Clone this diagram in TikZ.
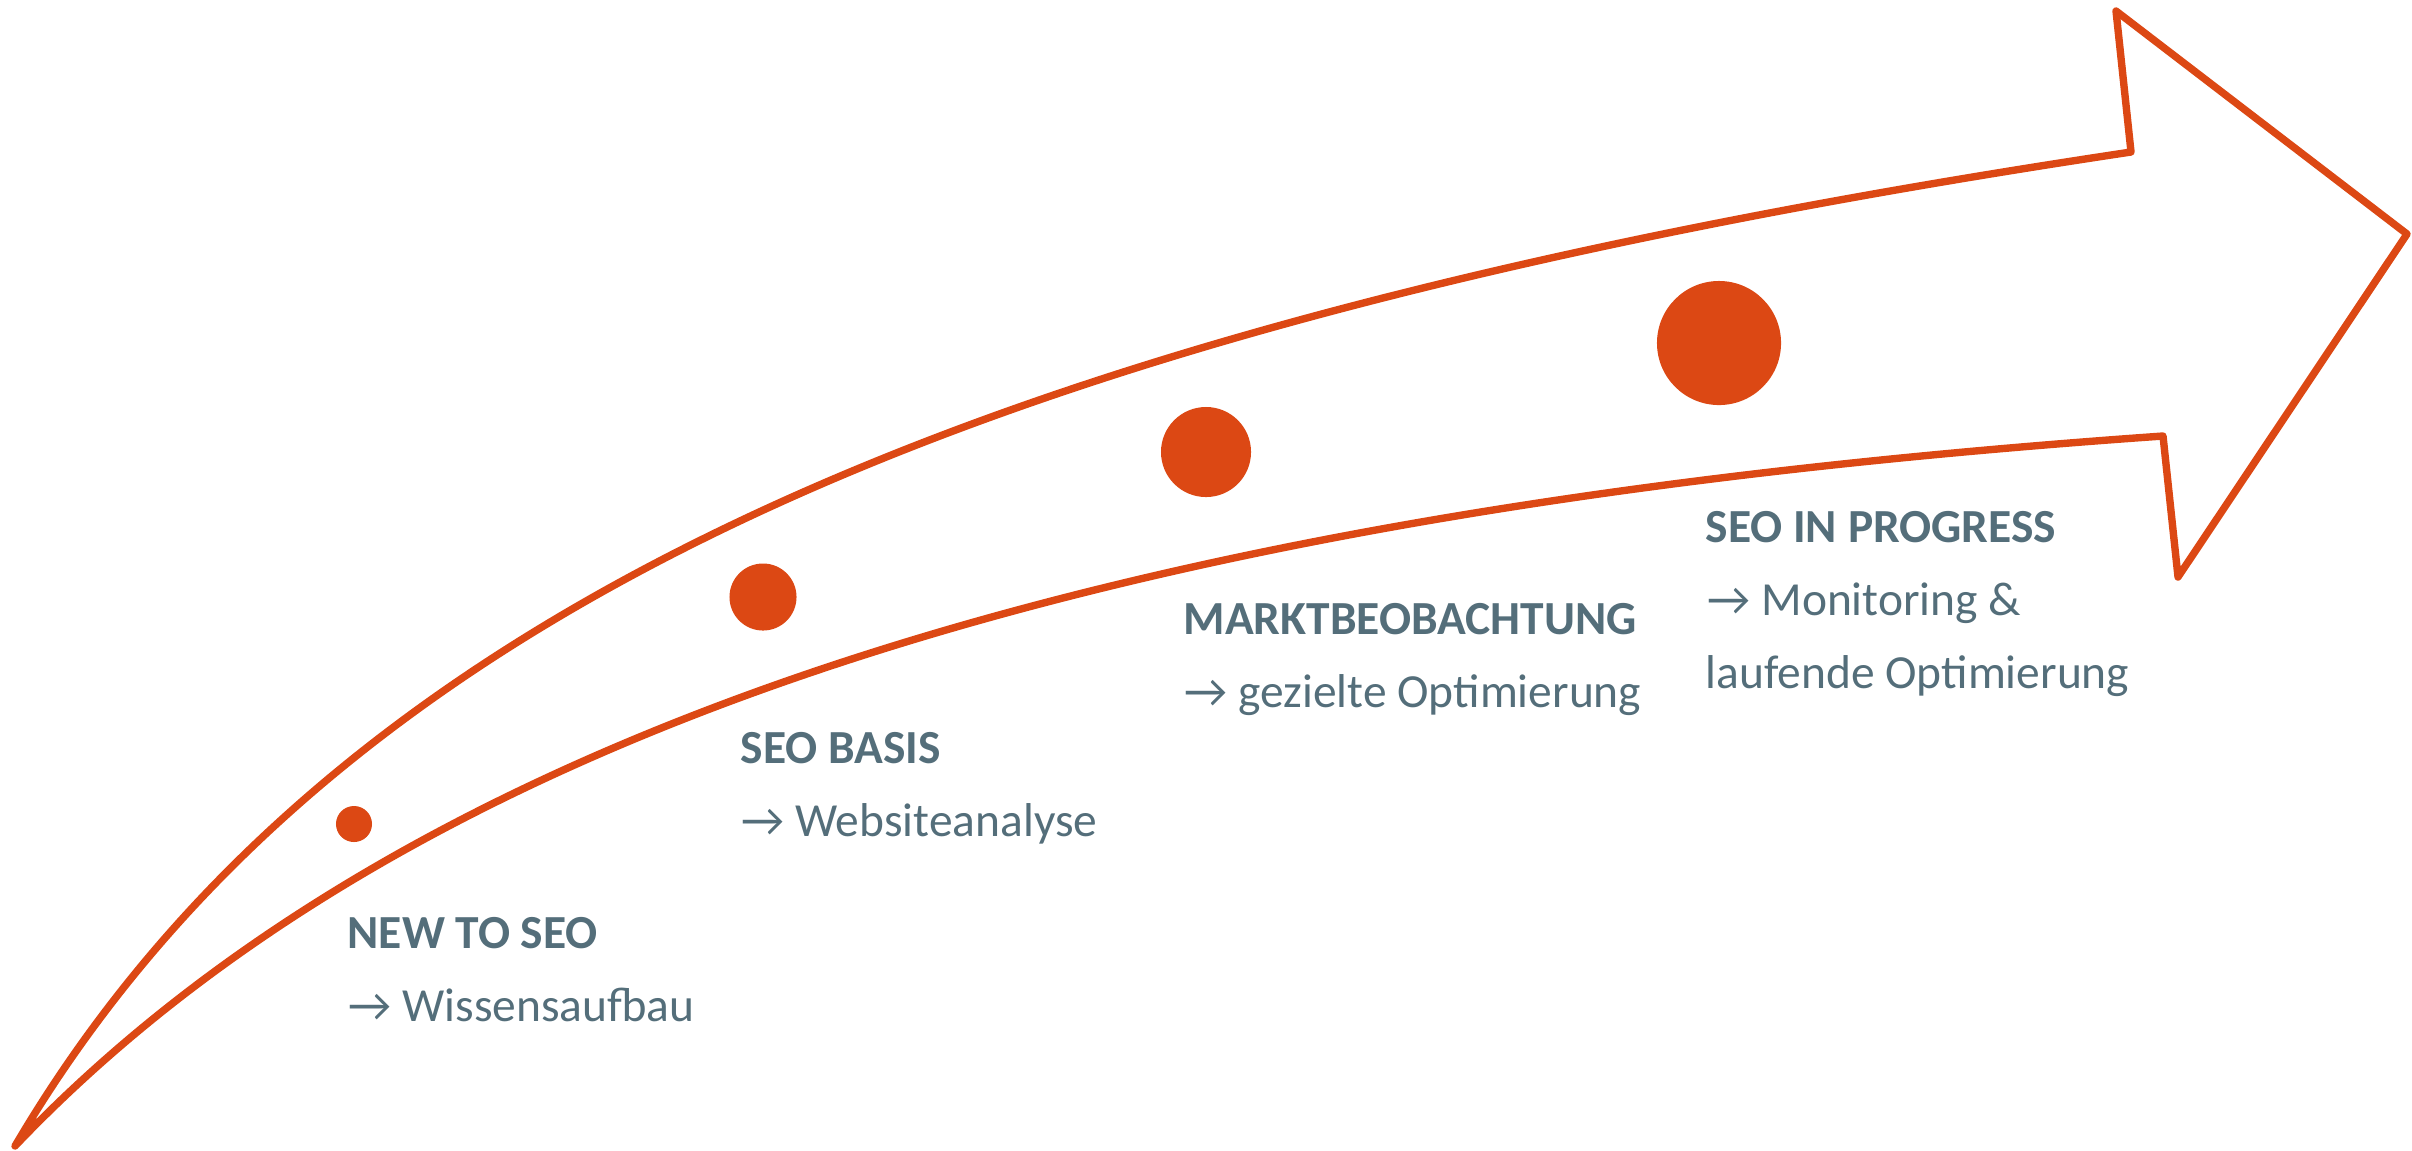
\documentclass[tikz,border=0pt]{standalone}
\usepackage{fontspec}
\setmainfont{Carlito}
\usetikzlibrary{positioning}
\definecolor{seoorange}{HTML}{DC4814}
\definecolor{seogray}{HTML}{546E7A}

\begin{document}
\begin{tikzpicture}[x=0.01cm, y=-0.01cm,
    stagedot/.style={circle, fill=seoorange, inner sep=0pt},
    stagetitle/.style={anchor=base west, inner sep=0pt, text=seogray, font=\fontsize{13.5pt}{16pt}\selectfont\bfseries},
    stagetext/.style={anchor=base west, inner sep=0pt, text=seogray, font=\fontsize{13.5pt}{16pt}\selectfont}]
  \useasboundingbox (0,0) rectangle (2412,1150);
  % arrow corners
  \coordinate (tail) at (15,1146);
  \coordinate (barbup) at (2131,152);
  \coordinate (tiptop) at (2116,11);
  \coordinate (tipright) at (2407,234);
  \coordinate (tipbottom) at (2178,577);
  \coordinate (barblow) at (2163,436);
  % outline of the arrow
  \draw[seoorange, line width=2.1pt, line join=round]
    (tail) .. controls (345,585) and (1031,317) .. (barbup)
    -- (tiptop) -- (tipright) -- (tipbottom) -- (barblow)
    .. controls (1263,499) and (465,674) .. cycle;
  % stages
  \node[stagedot, minimum size=0.36cm] (dot1) at (354,824) {};
  \node[stagedot, minimum size=0.67cm] (dot2) at (763,597) {};
  \node[stagedot, minimum size=0.90cm] (dot3) at (1206,452) {};
  \node[stagedot, minimum size=1.24cm] (dot4) at (1719,343) {};
  \node[stagetitle] (new) at (347,948) {NEW TO SEO};
  \node[stagetext] (newtext) at (348,1021) {→ Wissensaufbau};
  \node[stagetitle] (basis) at (740,763) {SEO BASIS};
  \node[stagetext] (basistext) at (741,836) {→ Websiteanalyse};
  \node[stagetitle] (markt) at (1183,634) {MARKTBEOBACHTUNG};
  \node[stagetext] (markttext) at (1184,707) {→ gezielte Optimierung};
  \node[stagetitle] (progress) at (1705,542) {SEO IN PROGRESS};
  \node[stagetext] (progresstext) at (1707,615) {→ Monitoring \&};
  \node[stagetext] (progresstext2) at (1705,688) {laufende Optimierung};
\end{tikzpicture}
\end{document}
